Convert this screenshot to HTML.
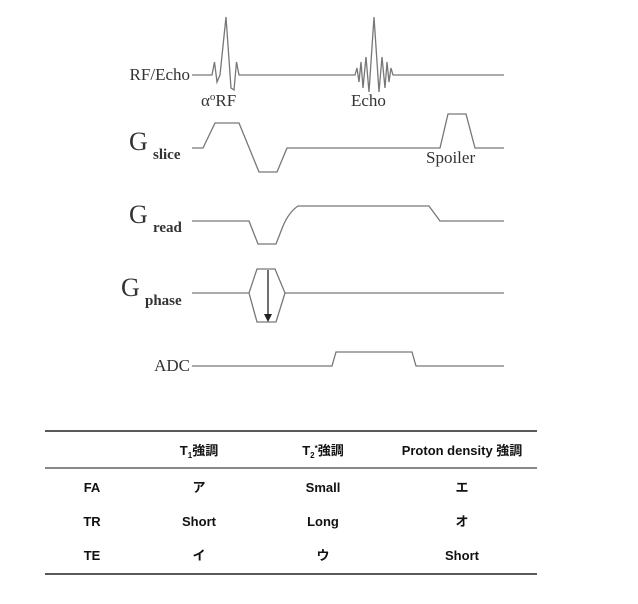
<!DOCTYPE html>
<html><head><meta charset="utf-8"><style>
body{margin:0;background:#fff;width:638px;height:604px;overflow:hidden}
svg{display:block}
.s{font-family:"Liberation Serif",serif;fill:#333}
.t{font-family:"Liberation Sans Narrow","Liberation Sans","Noto Sans CJK JP",sans-serif;font-size:13px;font-weight:bold;fill:#111;text-anchor:middle}
</style></head><body>
<svg width="638" height="604" viewBox="0 0 638 604">
<g fill="none" stroke="#777" stroke-width="1.3">
<path d="M192 75 H212 L214.5 62 L217 82 L220 75 L226 17 L231 88 L234 90 L236.5 62 L239 75 H355 L357 68 L359 82 L361 62 L363 88 L366 57 L369 92 L374 17 L379 92 L382 57 L385 88 L387 62 L389 82 L391 68 L393 75 H504"/>
<path d="M192 148 H203 L215 123 H239 L259 172 H277 L287 148 H440 L448 114 H466 L475 148 H504"/>
<path d="M192 221 H249 L258 244 H276 L283 226 Q289 212 298 206 H429 L440 221 H504"/>
<path d="M192 293 H249 L257 269 H275 L285 293 H504 M249 293 L257 322 H276 L285 293"/>
<path d="M192 366 H332 L336 352 H412 L416 366 H504"/>
</g>
<line x1="268" y1="270" x2="268" y2="315" stroke="#222" stroke-width="1.3"/>
<path d="M264 314 L272 314 L268 322 Z" fill="#222"/>
<text class="s" x="190" y="80" font-size="17" text-anchor="end">RF/Echo</text>
<text class="s" x="201" y="106" font-size="17">α<tspan font-size="11" dy="-6">o</tspan><tspan dy="6">RF</tspan></text>
<text class="s" x="351" y="106" font-size="17">Echo</text>
<text class="s" x="426" y="163" font-size="17">Spoiler</text>
<text class="s" x="129" y="150" font-size="26">G</text><text class="s" x="153" y="159" font-size="15" font-weight="bold">slice</text>
<text class="s" x="129" y="223" font-size="26">G</text><text class="s" x="153" y="232" font-size="15" font-weight="bold">read</text>
<text class="s" x="121" y="296" font-size="26">G</text><text class="s" x="145" y="305" font-size="15" font-weight="bold">phase</text>
<text class="s" x="190" y="371" font-size="17" text-anchor="end">ADC</text>
<line x1="45" y1="431" x2="537" y2="431" stroke="#222" stroke-width="1.5"/>
<line x1="45" y1="468" x2="537" y2="468" stroke="#777" stroke-width="1.8"/>
<line x1="45" y1="574" x2="537" y2="574" stroke="#222" stroke-width="1.5"/>
<text class="t" x="199" y="455">T<tspan font-size="8" dy="3">1</tspan><tspan dy="-3">強調</tspan></text>
<text class="t" x="323" y="455">T<tspan font-size="8" dy="3">2</tspan><tspan font-size="8" dy="-7">*</tspan><tspan dy="4">強調</tspan></text>
<text class="t" x="462" y="455">Proton density 強調</text>
<text class="t" x="92" y="492">FA</text><text class="t" x="199" y="492">ア</text><text class="t" x="323" y="492">Small</text><text class="t" x="462" y="492">エ</text>
<text class="t" x="92" y="526">TR</text><text class="t" x="199" y="526">Short</text><text class="t" x="323" y="526">Long</text><text class="t" x="462" y="526">オ</text>
<text class="t" x="92" y="560">TE</text><text class="t" x="199" y="560">イ</text><text class="t" x="323" y="560">ウ</text><text class="t" x="462" y="560">Short</text>
</svg>
</body></html>
